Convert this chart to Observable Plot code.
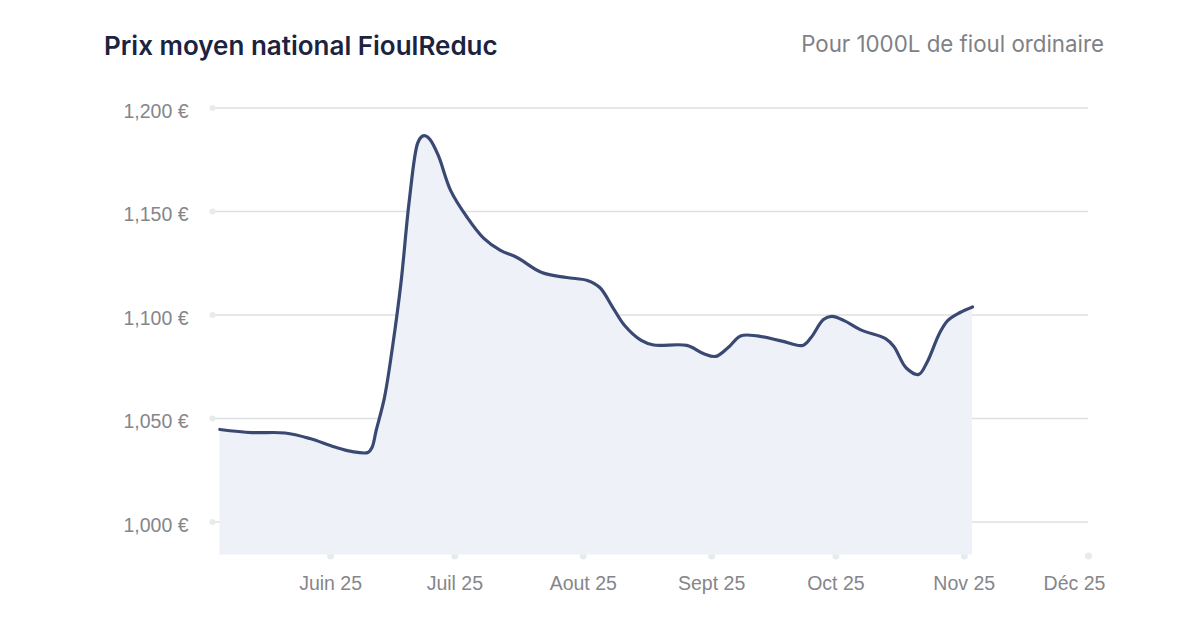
<!DOCTYPE html>
<html lang="fr">
<head>
<meta charset="utf-8">
<script src="https://cdn.jsdelivr.net/npm/d3@7"></script>
<script src="https://cdn.jsdelivr.net/npm/@observablehq/plot@0.6"></script>
<style>
html,body{margin:0;padding:0;background:#fff;overflow:hidden}
#head{position:relative;width:1200px;height:80px}
#title{position:absolute;left:104px;top:30px;font:600 26px/32px Inter,sans-serif;color:#1c2340;white-space:nowrap}
#sub{position:absolute;right:96px;top:29px;font:400 22.3px/30px Inter,sans-serif;color:#7f8185;white-space:nowrap}
svg{display:block}
</style>
</head>
<body>
<div id="head"><div id="title">Prix moyen national FioulReduc</div><div id="sub">Pour 1000L de fioul ordinaire</div></div>
<div id="chart"></div>
<script>
const dates = ["2025-05-05T06:00Z","2025-05-13","2025-05-21","2025-05-27","2025-06-02","2025-06-06","2025-06-10","2025-06-11","2025-06-12","2025-06-14","2025-06-16","2025-06-18","2025-06-20","2025-06-22","2025-06-23","2025-06-24","2025-06-25","2025-06-27","2025-06-30","2025-07-04","2025-07-08","2025-07-12","2025-07-16","2025-07-22","2025-07-28","2025-08-02","2025-08-05","2025-08-08","2025-08-11","2025-08-15","2025-08-18","2025-08-26","2025-08-30","2025-09-02","2025-09-05","2025-09-08","2025-09-12","2025-09-18","2025-09-23","2025-09-25","2025-09-28","2025-09-30","2025-10-03","2025-10-07","2025-10-13","2025-10-15","2025-10-18","2025-10-21","2025-10-23","2025-10-26","2025-10-28","2025-10-31","2025-11-03"];
const prices = [1.0447,1.0432,1.0430,1.0403,1.0362,1.0341,1.0336,1.0360,1.0442,1.0601,1.0853,1.1157,1.1553,1.1829,1.1862,1.1865,1.1848,1.1771,1.1601,1.1471,1.1370,1.1312,1.1278,1.1205,1.1181,1.1167,1.1133,1.1041,1.0949,1.0877,1.0855,1.0853,1.0814,1.0800,1.0843,1.0899,1.0899,1.0874,1.0853,1.0891,1.0978,1.0993,1.0973,1.0928,1.0886,1.0848,1.0744,1.0713,1.0771,1.0911,1.0973,1.1012,1.1039];
const yTicks = [1.0,1.05,1.1,1.15,1.2];
const yTickLabels = ["1,000 €","1,050 €","1,100 €","1,150 €","1,200 €"];
const xTicks = ["2025-06-01","2025-07-01","2025-08-01","2025-09-01","2025-10-01","2025-11-01"];
const xTickLabels = ["Juin 25","Juil 25","Aout 25","Sept 25","Oct 25","Nov 25"];
const lastTick = "2025-12-01";
const lastTickLabel = "Déc 25";
const xStart = "2025-05-03";
const yBase = 0.98406;

const parse = d3.isoParse;
const table = dates.map((d,i)=>({date:parse(d),price:prices[i]}));
const xTickDates = xTicks.map(parse);
const xFmt = new Map(xTickDates.map((d,i)=>[+d,xTickLabels[i]]));
const yFmt = new Map(yTicks.map((d,i)=>[d,yTickLabels[i]]));
const axisFont = {fontSize:19.5, fill:"#85868a", fontFamily:"'Liberation Sans',Arial,sans-serif"};
const tickDot = "#e6ecee";

const chart = Plot.plot({
  width:1200, height:547,
  marginTop:27.5, marginBottom:72.5, marginLeft:210, marginRight:112,
  style:{background:"#fff", overflow:"visible"},
  x:{type:"utc", domain:[parse(xStart),parse(lastTick)]},
  y:{domain:[yBase,1.2]},
  marks:[
    Plot.ruleY(yTicks,{stroke:"#dddfe1",strokeWidth:1.6}),
    Plot.dot(yTicks,{x:()=>parse(xStart),y:d=>d,r:3,fill:tickDot,dx:2}),
    Plot.dot([...xTickDates,parse(lastTick)],{x:d=>d,y:()=>yBase,r:3.5,fill:tickDot,dy:1}),
    Plot.areaY(table,{x:"date",y1:()=>yBase,y2:"price",fill:"#eef2f8",curve:"catmull-rom"}),
    Plot.lineY(table,{x:"date",y:"price",stroke:"#3a4972",strokeWidth:3.2,curve:"catmull-rom"}),
    Plot.axisY({ticks:yTicks,tickFormat:d=>yFmt.get(d),tickSize:0,tickPadding:22,dy:3.5,label:null,...axisFont,fillOpacity:1}),
    Plot.axisX({ticks:xTickDates,tickFormat:d=>xFmt.get(+d),tickSize:0,tickPadding:21.5,label:null,...axisFont,fillOpacity:1}),
    Plot.axisX({ticks:[parse(lastTick)],tickFormat:()=>lastTickLabel,tickSize:0,tickPadding:21.5,dx:-14,label:null,...axisFont,fillOpacity:1})
  ]
});
document.getElementById("chart").appendChild(chart);
</script>
</body>
</html>
